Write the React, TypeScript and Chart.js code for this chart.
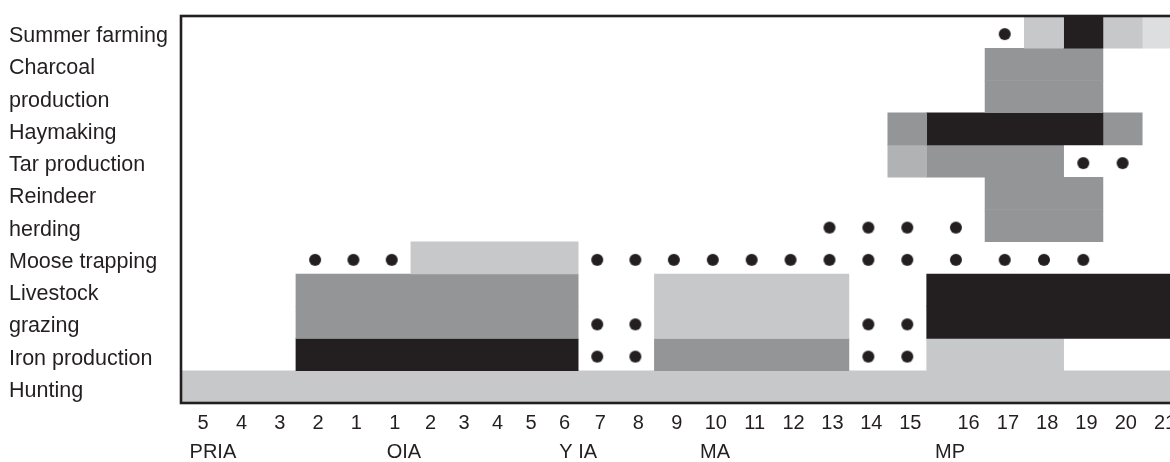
import React, { useEffect, useRef } from "react";
import { Chart, registerables } from "chart.js";

Chart.register(...registerables);

// Period (column) tick labels along the time axis
const periodLabels = ["5", "4", "3", "2", "1", "1", "2", "3", "4", "5", "6", "7", "8", "9", "10", "11", "12", "13", "14", "15", "16", "17", "18", "19", "20", "21"];
// Relative width of each period column on the time axis
const periodWidths = [0.985, 0.985, 0.985, 0.985, 0.985, 0.985, 0.86, 0.86, 0.86, 0.86, 0.86, 0.98, 0.98, 1, 1, 1, 1, 1, 1, 1, 1.5, 1.01, 1.01, 1.01, 1.01, 1.01];
// Era labels and their axis anchor (in time-axis units)
const eraLabels = ["PRIA", "OIA", "Y IA", "MA", "MP"];
const eraAnchors = [0.82, 5.73, 10.21, 13.73, 19.77];

// Blocks: [first column index, last column index, shade]
const summerFarmingBlocks = [[22, 22, "light"], [23, 23, "black"], [24, 24, "light"], [25, 25, "pale"]];
const summerFarmingDots = [21];
const charcoalBlocks = [[21, 23, "mid"]];
const haymakingBlocks = [[19, 19, "mid"], [20, 23, "black"], [24, 24, "mid"]];
const tarBlocks = [[19, 19, "soft"], [20, 22, "mid"]];
const tarDots = [23, 24];
const reindeerBlocks = [[21, 23, "mid"]];
const reindeerDots = [17, 18, 19, 20];
const mooseBlocks = [[6, 10, "light"]];
const mooseDots = [3, 4, 5, 11, 12, 13, 14, 15, 16, 17, 18, 19, 20, 21, 22, 23];
const livestockBlocks = [[3, 10, "mid"], [13, 17, "light"], [20, 25, "black"]];
const livestockDots = [11, 12, 18, 19];
const ironBlocks = [[3, 10, "black"], [13, 17, "mid"], [20, 22, "light"]];
const ironDots = [11, 12, 18, 19];
const huntingBlocks = [[0, 25, "light"]];

const activities = [
  { lines: ["Summer farming"], blocks: summerFarmingBlocks, dots: summerFarmingDots },
  { lines: ["Charcoal", "production"], blocks: charcoalBlocks, dots: [] },
  { lines: ["Haymaking"], blocks: haymakingBlocks, dots: [] },
  { lines: ["Tar production"], blocks: tarBlocks, dots: tarDots },
  { lines: ["Reindeer", "herding"], blocks: reindeerBlocks, dots: reindeerDots },
  { lines: ["Moose trapping"], blocks: mooseBlocks, dots: mooseDots },
  { lines: ["Livestock", "grazing"], blocks: livestockBlocks, dots: livestockDots },
  { lines: ["Iron production"], blocks: ironBlocks, dots: ironDots },
  { lines: ["Hunting"], blocks: huntingBlocks, dots: [] },
];

const shades: Record<string, string> = {
  light: "#c7c8ca",
  mid: "#939597",
  black: "#231f20",
  soft: "#b1b2b4",
  pale: "#dddee0",
};

const INK = "#231f20";
const FONT = "'Liberation Sans', Arial, Helvetica, sans-serif";

function makeDotStyle() {
  // filled dot, sitting slightly below the row centre as in the source figure
  const c = document.createElement("canvas");
  c.width = 14;
  c.height = 18;
  const g = c.getContext("2d")!;
  g.fillStyle = INK;
  g.beginPath();
  g.arc(7, 11, 6, 0, Math.PI * 2);
  g.fill();
  return c;
}

export default function App() {
  const ref = useRef<HTMLCanvasElement | null>(null);

  useEffect(() => {
    if (!ref.current) return;
    const rowLabels = activities.flatMap((a) => a.lines);
    const edges = periodWidths.reduce((acc: number[], w) => {
      acc.push(acc[acc.length - 1] + w);
      return acc;
    }, [0]);
    const xMax = edges[edges.length - 1];
    const centers = periodWidths.map((w, i) => edges[i] + w / 2);
    const tickValues = periodWidths.map((w, i) => edges[i] + Math.max(w / 2, w - 0.5));

    const barSets: any[] = [];
    activities.forEach((act) => {
      act.blocks.forEach(([a, b, shade]: any) => {
        barSets.push({
          type: "bar",
          data: rowLabels.map((l) => (act.lines.includes(l) ? [edges[a], edges[b + 1]] : null)),
          backgroundColor: shades[shade],
          borderWidth: 0,
          barPercentage: 1,
          categoryPercentage: 1,
          grouped: false,
          order: 2,
        });
      });
    });

    const dotData = activities.flatMap((act) =>
      act.dots.map((c) => ({ x: centers[c], y: act.lines[act.lines.length - 1] }))
    );

    const framePlugin = {
      id: "frame",
      afterDatasetsDraw(chart: any) {
        const { ctx, chartArea } = chart;
        ctx.save();
        ctx.strokeStyle = INK;
        ctx.lineWidth = 2.6;
        ctx.strokeRect(chartArea.left, chartArea.top, chartArea.right - chartArea.left, chartArea.bottom - chartArea.top);
        ctx.restore();
      },
    };

    const chart = new Chart(ref.current, {
      type: "bar",
      data: {
        labels: rowLabels,
        datasets: [
          {
            type: "scatter",
            data: dotData,
            pointStyle: makeDotStyle(),
            backgroundColor: INK,
            borderWidth: 0,
            pointRadius: 6,
            pointHoverRadius: 6,
            order: 1,
          } as any,
          ...barSets,
        ],
      },
      options: {
        indexAxis: "y",
        animation: false,
        responsive: false,
        events: [],
        layout: { padding: { left: 9, right: 18.5, top: 16, bottom: 0 } },
        plugins: { legend: { display: false }, tooltip: { enabled: false } },
        scales: {
          y: {
            type: "category",
            labels: rowLabels,
            offset: true,
            grid: { display: false, drawTicks: false },
            border: { display: false },
            ticks: {
              color: INK,
              font: { family: FONT, size: 21.5 },
              crossAlign: "far",
              padding: 0,
              labelOffset: 4,
              autoSkip: false,
            },
            afterFit: (s: any) => {
              s.width = 172;
            },
          },
          x: {
            type: "linear",
            position: "bottom",
            min: 0,
            max: xMax,
            weight: 0,
            grid: { display: false, drawTicks: false },
            border: { display: false },
            ticks: {
              color: INK,
              font: { family: FONT, size: 20 },
              autoSkip: false,
              maxRotation: 0,
              padding: 8,
              labelOffset: 3,
              callback: (_v: any, i: number) => periodLabels[i],
            },
            afterBuildTicks: (s: any) => {
              s.ticks = tickValues.map((value) => ({ value }));
            },
            afterFit: (s: any) => {
              s.height = 30;
            },
          },
          x2: {
            type: "linear",
            axis: "x",
            position: "bottom",
            min: 0,
            max: xMax,
            weight: 1,
            grid: { display: false, drawTicks: false },
            border: { display: false },
            ticks: {
              color: INK,
              font: { family: FONT, size: 20 },
              autoSkip: false,
              maxRotation: 0,
              padding: 7,
              callback: (_v: any, i: number) => eraLabels[i],
            },
            afterBuildTicks: (s: any) => {
              s.ticks = eraAnchors.map((value) => ({ value }));
            },
            afterFit: (s: any) => {
              s.height = 29;
            },
          },
        },
      } as any,
      plugins: [framePlugin],
    });
    return () => chart.destroy();
  }, []);

  return (
    <div style={{ position: "absolute", left: 0, top: 0, width: 1170, height: 462, overflow: "hidden", background: "#fff" }}>
      <canvas ref={ref} width={1200} height={462} style={{ display: "block" }} />
    </div>
  );
}
